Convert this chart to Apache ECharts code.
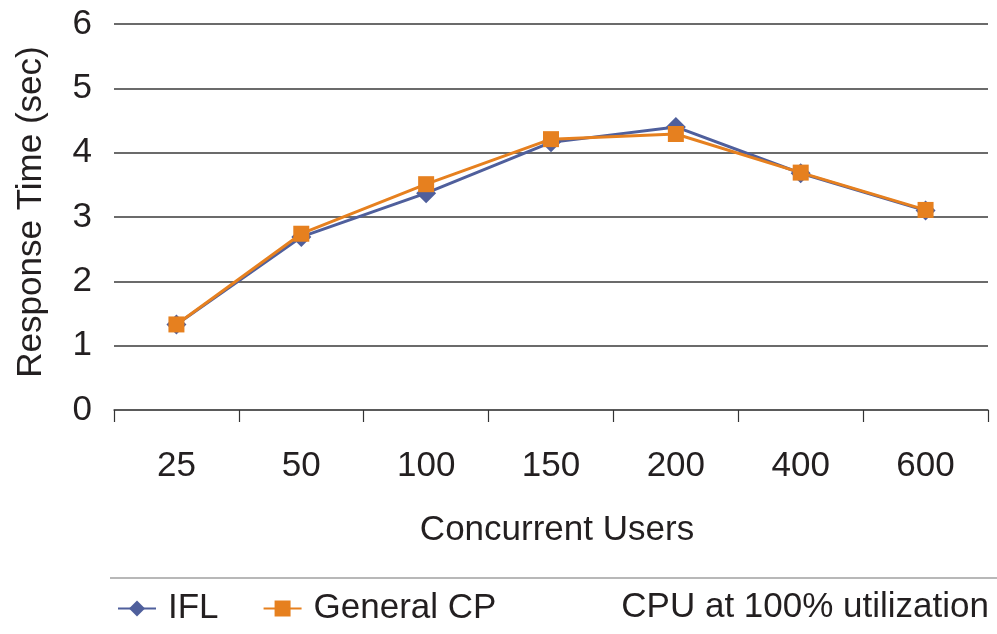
<!DOCTYPE html>
<html>
<head>
<meta charset="utf-8">
<script src="https://cdn.jsdelivr.net/npm/echarts@6/dist/echarts.min.js"></script>
<style>
html,body{margin:0;padding:0;background:#fff;}
#c{width:997px;height:634px;}
</style>
</head>
<body>
<div id="c"></div>
<script>
const categories = ['25', '50', '100', '150', '200', '400', '600'];
const iflValues = [1.33, 2.69, 3.37, 4.16, 4.40, 3.68, 3.10];
const generalCpValues = [1.33, 2.74, 3.51, 4.21, 4.29, 3.69, 3.11];
const yTicks = [0, 1, 2, 3, 4, 5, 6];
const seriesNames = ['IFL', 'General CP'];
const xTitle = 'Concurrent Users';
const yTitle = 'Response Time (sec)';
const note = 'CPU at 100% utilization';

const FONT = '"Liberation Sans", Arial, Helvetica, sans-serif';
const FS = 35;
const TXT = '#231f20';
const BLUE = '#4f5f9c';
const ORANGE = '#e6801f';

const chart = echarts.init(document.getElementById('c'), null, {renderer: 'canvas'});
chart.setOption({
  animation: false,
  backgroundColor: '#ffffff',
  grid: {left: 114, right: 9, top: 24, bottom: 224, containLabel: false},
  xAxis: {
    type: 'category',
    data: categories,
    boundaryGap: true,
    axisLine: {show: true, lineStyle: {color: '#555', width: 1.5}},
    axisTick: {show: true, length: 12, inside: false, lineStyle: {color: '#333', width: 1.2}},
    axisLabel: {fontFamily: FONT, fontSize: FS, color: TXT, margin: 39},
    splitLine: {show: false}
  },
  yAxis: {
    type: 'value',
    min: yTicks[0],
    max: yTicks[yTicks.length - 1],
    interval: 1,
    axisLine: {show: false},
    axisTick: {show: false},
    axisLabel: {fontFamily: FONT, fontSize: FS, color: TXT, margin: 22},
    splitLine: {show: true, lineStyle: {color: '#3a3a3a', width: 1.5}}
  },
  legend: {
    left: 117,
    top: 591,
    padding: 0,
    itemWidth: 38,
    itemHeight: 20,
    itemGap: 44,
    textStyle: {fontFamily: FONT, fontSize: FS, color: TXT, padding: [0, 0, 0, 7]},
    data: seriesNames
  },
  series: [
    {
      name: seriesNames[0],
      type: 'line',
      data: iflValues,
      symbol: 'diamond',
      symbolSize: 20,
      color: BLUE,
      lineStyle: {width: 3, color: BLUE},
      itemStyle: {color: BLUE},
      z: 2
    },
    {
      name: seriesNames[1],
      type: 'line',
      data: generalCpValues,
      symbol: 'rect',
      symbolSize: 16,
      color: ORANGE,
      lineStyle: {width: 3, color: ORANGE},
      itemStyle: {color: ORANGE},
      z: 3
    }
  ],
  graphic: [
    {
      type: 'text',
      position: [557, 530],
      style: {text: xTitle, fontFamily: FONT, fontSize: FS, fill: TXT, textAlign: 'center', textVerticalAlign: 'middle'}
    },
    {
      type: 'text',
      rotation: Math.PI / 2,
      position: [31, 212],
      style: {text: yTitle, fontFamily: FONT, fontSize: FS, fill: TXT, textAlign: 'center', textVerticalAlign: 'middle'}
    },
    {
      type: 'line',
      shape: {x1: 110, y1: 578, x2: 997, y2: 578},
      style: {stroke: '#a0a0a0', lineWidth: 1.5}
    },
    {
      type: 'text',
      position: [989, 607],
      style: {text: note, fontFamily: FONT, fontSize: FS, fill: TXT, textAlign: 'right', textVerticalAlign: 'middle'}
    }
  ]
});
</script>
</body>
</html>
